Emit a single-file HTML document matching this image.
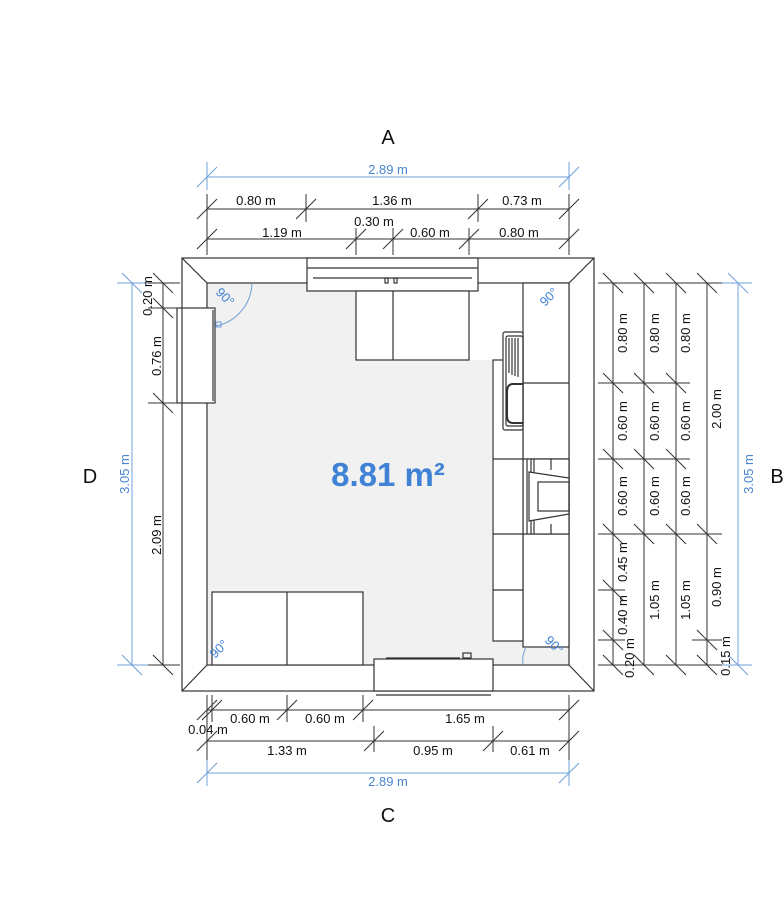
<!DOCTYPE html>
<html><head><meta charset="utf-8"><style>
html,body{margin:0;padding:0;background:#fff;}
svg{display:block;}
text{font-family:"Liberation Sans","DejaVu Sans",sans-serif;}
</style></head><body>
<svg width="783" height="900" viewBox="0 0 783 900" xmlns="http://www.w3.org/2000/svg">
<rect width="783" height="900" fill="#fff"/>
<!-- floor -->
<path d="M207 283 H356 V360 H492 V641 H523 V647 H569 V665 H207 Z" fill="#f1f1f1"/>
<g stroke="#333" stroke-width="1.2" fill="none">
<!-- walls -->
<rect x="182" y="258" width="412" height="433" fill="none"/>
<rect x="207" y="283" width="362" height="382"/>
<line x1="182" y1="258" x2="207" y2="283"/><line x1="594" y1="258" x2="569" y2="283"/>
<line x1="182" y1="691" x2="207" y2="665"/><line x1="594" y1="691" x2="569" y2="665"/>
<!-- window top -->
<rect x="307" y="258" width="171" height="33" fill="#fff"/>
<line x1="307" y1="268" x2="478" y2="268"/>
<line x1="313" y1="278" x2="472" y2="278"/>
<rect x="385" y="278" width="3" height="5"/><rect x="394" y="278" width="3" height="5"/>
<!-- top cabinets -->
<rect x="356" y="291" width="113" height="69" fill="#fff"/>
<line x1="393" y1="291" x2="393" y2="360"/>
<!-- left door -->
<rect x="177" y="308" width="38" height="95" fill="#fff"/>
<line x1="182" y1="308" x2="182" y2="403"/>
<line x1="213" y1="310" x2="213" y2="401"/>
<!-- right cabinets -->
<rect x="523" y="283" width="46" height="364" fill="#fff"/>
<line x1="523" y1="383" x2="569" y2="383"/>
<line x1="523" y1="459" x2="569" y2="459"/>
<line x1="523" y1="534" x2="569" y2="534"/>
<rect x="493" y="360" width="30" height="281" fill="#fff"/>
<line x1="493" y1="459" x2="523" y2="459"/>
<line x1="493" y1="534" x2="523" y2="534"/>
<line x1="493" y1="590" x2="523" y2="590"/>
<!-- sink -->
<rect x="503" y="332" width="20" height="98" rx="2" fill="#fff"/>
<rect x="506" y="336" width="17" height="90" rx="2"/>
<line x1="509" y1="338" x2="509" y2="373"/><line x1="512" y1="338" x2="512" y2="375"/><line x1="515" y1="338" x2="515" y2="376"/><line x1="518" y1="338" x2="518" y2="377"/>
<path d="M523 384 H513 Q507 384 507 392 V416 Q507 423 513 423 H523" stroke-width="2"/>
<!-- stove -->
<rect x="527" y="459" width="42" height="75" fill="#fff"/>
<line x1="531" y1="459" x2="531" y2="534"/>
<line x1="534" y1="459" x2="534" y2="534"/>
<line x1="551" y1="459" x2="551" y2="470"/><line x1="551" y1="524" x2="551" y2="534"/>
<path d="M529 472 L569 478 V514 L529 521 Z" fill="#fff"/>
<rect x="538" y="482" width="31" height="29"/>
<!-- bottom-left cabinets -->
<rect x="212" y="592" width="151" height="73" fill="#fff"/>
<line x1="287" y1="592" x2="287" y2="665"/>
<!-- bottom appliance -->
<rect x="374" y="659" width="119" height="32" fill="#fff"/>
<line x1="376" y1="695" x2="491" y2="695"/>
<line x1="386" y1="658" x2="460" y2="658"/>
<rect x="463" y="653" width="8" height="5"/>
</g>
<!-- door arcs -->
<g stroke="#6fa0d8" stroke-width="1" fill="none">
<path d="M252 283 A45 45 0 0 1 216 326"/>
<rect x="216" y="322" width="5" height="5"/>
<path d="M526 647 A30 30 0 0 0 523 665"/>
</g>
<g fill="#3f82d6" font-size="13">
<text transform="translate(222,300) rotate(45)" text-anchor="middle">90°</text>
<text transform="translate(552,300) rotate(-45)" text-anchor="middle">90°</text>
<text transform="translate(222,652) rotate(-45)" text-anchor="middle">90°</text>
<text transform="translate(551,648) rotate(45)" text-anchor="middle">90°</text>
</g>
<text x="388" y="486" text-anchor="middle" fill="#3f82d6" font-size="33" font-weight="bold">8.81 m²</text>

<!-- dimension lines -->
<g stroke="#333" stroke-width="1">
<!-- top -->
<line x1="207" y1="209" x2="569" y2="209"/>
<line x1="207" y1="239" x2="569" y2="239"/>
<line x1="207" y1="194" x2="207" y2="255"/><line x1="569" y1="194" x2="569" y2="255"/>
<line x1="306" y1="194" x2="306" y2="222"/><line x1="478" y1="194" x2="478" y2="222"/>
<line x1="356" y1="228" x2="356" y2="255"/><line x1="393" y1="228" x2="393" y2="255"/><line x1="469" y1="228" x2="469" y2="255"/>
<!-- bottom -->
<line x1="207" y1="710" x2="569" y2="710"/>
<line x1="207" y1="741" x2="569" y2="741"/>
<line x1="207" y1="695" x2="207" y2="760"/><line x1="569" y1="695" x2="569" y2="760"/>
<line x1="212" y1="695" x2="212" y2="722"/><line x1="287" y1="695" x2="287" y2="722"/><line x1="363" y1="695" x2="363" y2="722"/>
<line x1="374" y1="726" x2="374" y2="752"/><line x1="493" y1="726" x2="493" y2="752"/>
<!-- left -->
<line x1="163" y1="283" x2="163" y2="665"/>
<line x1="148" y1="283" x2="180" y2="283"/><line x1="148" y1="308" x2="180" y2="308"/><line x1="148" y1="403" x2="180" y2="403"/><line x1="148" y1="665" x2="180" y2="665"/>
<!-- right -->
<line x1="613" y1="283" x2="613" y2="665"/>
<line x1="644" y1="283" x2="644" y2="665"/>
<line x1="676" y1="283" x2="676" y2="665"/>
<line x1="707" y1="283" x2="707" y2="665"/>
<line x1="598" y1="283" x2="722" y2="283"/>
<line x1="598" y1="383" x2="690" y2="383"/>
<line x1="598" y1="459" x2="690" y2="459"/>
<line x1="598" y1="534" x2="722" y2="534"/>
<line x1="598" y1="590" x2="625" y2="590"/>
<line x1="598" y1="640" x2="625" y2="640"/>
<line x1="692" y1="640" x2="722" y2="640"/>
<line x1="598" y1="665" x2="722" y2="665"/>
</g>
<!-- ticks -->
<g stroke="#333" stroke-width="1">
<path d="M197 219 L217 199 M296 219 L316 199 M468 219 L488 199 M559 219 L579 199
M197 249 L217 229 M346 249 L366 229 M383 249 L403 229 M459 249 L479 229 M559 249 L579 229
M197 720 L217 700 M202 720 L222 700 M277 720 L297 700 M353 720 L373 700 M559 720 L579 700
M197 751 L217 731 M364 751 L384 731 M483 751 L503 731 M559 751 L579 731
M153 273 L173 293 M153 298 L173 318 M153 393 L173 413 M153 655 L173 675
M603 273 L623 293 M634 273 L654 293 M666 273 L686 293 M697 273 L717 293
M603 373 L623 393 M634 373 L654 393 M666 373 L686 393
M603 449 L623 469 M634 449 L654 469 M666 449 L686 469
M603 524 L623 544 M634 524 L654 544 M666 524 L686 544 M697 524 L717 544
M603 580 L623 600 M603 630 L623 650 M697 630 L717 650
M603 655 L623 675 M634 655 L654 675 M666 655 L686 675 M697 655 L717 675"/>
</g>
<!-- blue dims -->
<g stroke="#6fa0d8" stroke-width="1">
<line x1="207" y1="177" x2="569" y2="177"/>
<line x1="207" y1="162" x2="207" y2="190"/><line x1="569" y1="162" x2="569" y2="190"/>
<path d="M197 187 L217 167 M559 187 L579 167"/>
<line x1="207" y1="773" x2="569" y2="773"/>
<line x1="207" y1="760" x2="207" y2="786"/><line x1="569" y1="760" x2="569" y2="786"/>
<path d="M197 783 L217 763 M559 783 L579 763"/>
<line x1="132" y1="283" x2="132" y2="665"/>
<line x1="117" y1="283" x2="148" y2="283"/><line x1="117" y1="665" x2="148" y2="665"/>
<path d="M122 273 L142 293 M122 655 L142 675"/>
<line x1="738" y1="283" x2="738" y2="665"/>
<line x1="722" y1="283" x2="752" y2="283"/><line x1="722" y1="665" x2="752" y2="665"/>
<path d="M728 273 L748 293 M728 655 L748 675"/>
</g>
<g fill="#4a86cf" font-size="13">
<text x="388" y="174" text-anchor="middle">2.89 m</text>
<text x="388" y="786" text-anchor="middle">2.89 m</text>
<text transform="translate(129,474) rotate(-90)" text-anchor="middle">3.05 m</text>
<text transform="translate(753,474) rotate(-90)" text-anchor="middle">3.05 m</text>
</g>
<g fill="#111" font-size="13">
<text x="256" y="205" text-anchor="middle">0.80 m</text>
<text x="392" y="205" text-anchor="middle">1.36 m</text>
<text x="522" y="205" text-anchor="middle">0.73 m</text>
<text x="282" y="237" text-anchor="middle">1.19 m</text>
<text x="374" y="226" text-anchor="middle">0.30 m</text>
<text x="430" y="237" text-anchor="middle">0.60 m</text>
<text x="519" y="237" text-anchor="middle">0.80 m</text>
<text x="250" y="723" text-anchor="middle">0.60 m</text>
<text x="325" y="723" text-anchor="middle">0.60 m</text>
<text x="465" y="723" text-anchor="middle">1.65 m</text>
<text x="208" y="734" text-anchor="middle">0.04 m</text>
<text x="287" y="755" text-anchor="middle">1.33 m</text>
<text x="433" y="755" text-anchor="middle">0.95 m</text>
<text x="530" y="755" text-anchor="middle">0.61 m</text>
<text transform="translate(152,296) rotate(-90)" text-anchor="middle">0.20 m</text>
<text transform="translate(161,356) rotate(-90)" text-anchor="middle">0.76 m</text>
<text transform="translate(161,535) rotate(-90)" text-anchor="middle">2.09 m</text>
<text transform="translate(627,333) rotate(-90)" text-anchor="middle">0.80 m</text>
<text transform="translate(627,421) rotate(-90)" text-anchor="middle">0.60 m</text>
<text transform="translate(627,496) rotate(-90)" text-anchor="middle">0.60 m</text>
<text transform="translate(627,562) rotate(-90)" text-anchor="middle">0.45 m</text>
<text transform="translate(627,615) rotate(-90)" text-anchor="middle">0.40 m</text>
<text transform="translate(634,658) rotate(-90)" text-anchor="middle">0.20 m</text>
<text transform="translate(659,333) rotate(-90)" text-anchor="middle">0.80 m</text>
<text transform="translate(659,421) rotate(-90)" text-anchor="middle">0.60 m</text>
<text transform="translate(659,496) rotate(-90)" text-anchor="middle">0.60 m</text>
<text transform="translate(659,600) rotate(-90)" text-anchor="middle">1.05 m</text>
<text transform="translate(690,333) rotate(-90)" text-anchor="middle">0.80 m</text>
<text transform="translate(690,421) rotate(-90)" text-anchor="middle">0.60 m</text>
<text transform="translate(690,496) rotate(-90)" text-anchor="middle">0.60 m</text>
<text transform="translate(690,600) rotate(-90)" text-anchor="middle">1.05 m</text>
<text transform="translate(721,409) rotate(-90)" text-anchor="middle">2.00 m</text>
<text transform="translate(721,587) rotate(-90)" text-anchor="middle">0.90 m</text>
<text transform="translate(730,656) rotate(-90)" text-anchor="middle">0.15 m</text>
</g>
<g fill="#111" font-size="20">
<text x="388" y="144" text-anchor="middle">A</text>
<text x="388" y="822" text-anchor="middle">C</text>
<text x="90" y="483" text-anchor="middle">D</text>
<text x="777" y="483" text-anchor="middle">B</text>
</g>
</svg>
</body></html>
